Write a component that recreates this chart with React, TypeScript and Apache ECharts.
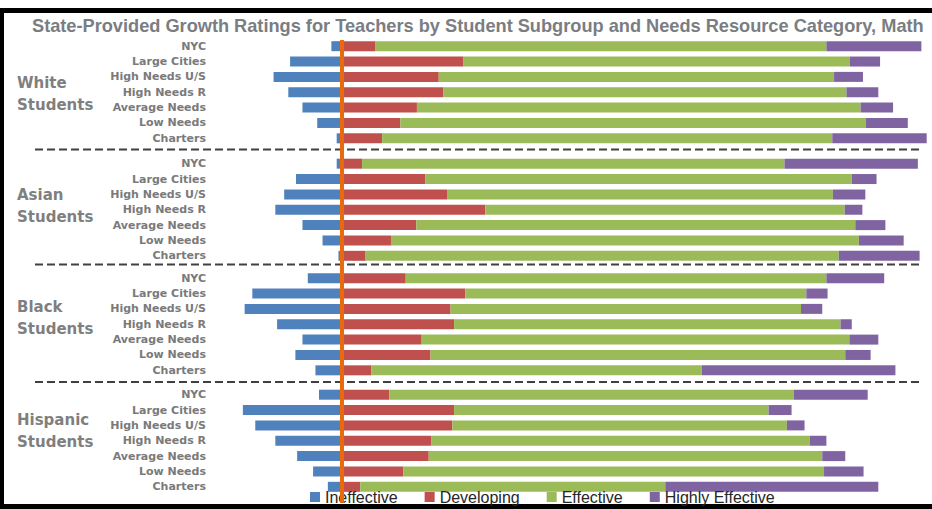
import React, { useEffect, useRef } from 'react';
import * as echarts from 'echarts';

const titleText =
  'State-Provided Growth Ratings for Teachers by Student Subgroup and Needs Resource Category, Math';
const categories = ['NYC', 'Large Cities', 'High Needs U/S', 'High Needs R', 'Average Needs', 'Low Needs', 'Charters'];
const groupLabels = ['White\nStudents', 'Asian\nStudents', 'Black\nStudents', 'Hispanic\nStudents'];
const ratingNames = ['Ineffective', 'Developing', 'Effective', 'Highly Effective'];

// percentages of teachers per rating (Ineffective drawn to the left of zero)
const whiteIneffective = [1.8, 8.8, 11.6, 9.1, 6.7, 4.2, 0.9];
const whiteDeveloping = [5.6, 20.6, 16.4, 17.2, 12.7, 9.9, 6.8];
const whiteEffective = [76.5, 65.5, 67.0, 68.3, 75.2, 78.9, 76.3];
const whiteHighlyEffective = [16.1, 5.1, 4.9, 5.4, 5.5, 7.1, 16.0];

const asianIneffective = [0.9, 7.8, 9.8, 11.3, 6.7, 3.3, 0.6];
const asianDeveloping = [3.4, 14.1, 17.8, 24.3, 12.6, 8.3, 4.0];
const asianEffective = [71.6, 72.3, 65.4, 60.9, 74.4, 79.3, 80.2];
const asianHighlyEffective = [22.6, 4.2, 5.5, 3.0, 5.1, 7.6, 13.7];

const blackIneffective = [5.8, 15.2, 16.5, 11.0, 6.7, 7.9, 4.5];
const blackDeveloping = [10.8, 20.9, 18.4, 19.0, 13.5, 15.0, 5.0];
const blackEffective = [71.3, 57.8, 59.4, 65.5, 72.5, 70.3, 56.0];
const blackHighlyEffective = [9.8, 3.6, 3.6, 1.9, 4.9, 4.3, 32.8];

const hispanicIneffective = [3.9, 16.8, 14.7, 11.3, 7.6, 4.9, 2.4];
const hispanicDeveloping = [8.0, 19.0, 18.7, 15.1, 14.7, 10.4, 3.1];
const hispanicEffective = [68.6, 53.3, 56.7, 64.2, 66.7, 71.3, 51.7];
const hispanicHighlyEffective = [12.5, 3.9, 3.0, 2.8, 3.9, 6.7, 36.1];

const groupValues = [
  [whiteIneffective, whiteDeveloping, whiteEffective, whiteHighlyEffective],
  [asianIneffective, asianDeveloping, asianEffective, asianHighlyEffective],
  [blackIneffective, blackDeveloping, blackEffective, blackHighlyEffective],
  [hispanicIneffective, hispanicDeveloping, hispanicEffective, hispanicHighlyEffective],
];

const ratingColors = ['#4F81BD', '#C0504D', '#9BBB59', '#8064A2'];

// layout
const W = 932;
const H = 509;
const gridLeft = 224;
const gridWidth = 708.6;
const gridTops = [38.5, 156, 270.5, 387];
const gridHeight = 107.5;
const labelCenters = [94, 206, 317.5, 431];
const separatorYs = [149.5, 264.5, 382];

export default function App() {
  const ref = useRef<HTMLDivElement>(null);

  useEffect(() => {
    if (!ref.current) return;
    const chart = echarts.init(ref.current, undefined, { renderer: 'svg' });

    const grids: any[] = gridTops.map((top) => ({ left: gridLeft, width: gridWidth, top, height: gridHeight }));
    grids.push({ left: gridLeft, width: gridWidth, top: 40, height: 463 });

    const xAxes: any[] = grids.map((_, i) => ({ type: 'value', gridIndex: i, min: -20, max: 100, show: false }));

    const yAxes: any[] = gridTops.map((_, i) => ({
      type: 'category',
      gridIndex: i,
      data: categories,
      inverse: true,
      axisLine: { show: false },
      axisTick: { show: false },
      splitLine: { show: false },
      axisLabel: {
        margin: 18,
        fontSize: 11,
        fontWeight: 'bold',
        fontFamily: 'DejaVu Sans',
        color: '#7a7a7a',
      },
    }));
    yAxes.push({ type: 'value', gridIndex: 4, min: 0, max: 1, show: false });

    const series: any[] = [];
    groupValues.forEach((vals, gi) => {
      vals.forEach((arr, ri) => {
        series.push({
          type: 'bar',
          name: ratingNames[ri],
          xAxisIndex: gi,
          yAxisIndex: gi,
          stack: 'group' + gi,
          barWidth: 10,
          data: ri === 0 ? arr.map((v) => -v) : arr,
          itemStyle: { color: ratingColors[ri] },
        });
      });
    });
    series.push({
      type: 'line',
      name: 'zero',
      xAxisIndex: 4,
      yAxisIndex: 4,
      data: [
        [0, 0],
        [0, 1],
      ],
      symbol: 'none',
      lineStyle: { color: '#E8690E', width: 4 },
      z: 10,
      silent: true,
    });

    const graphic: any[] = [
      { type: 'rect', shape: { x: 0, y: 8, width: W, height: 5 }, style: { fill: '#000' } },
      { type: 'rect', shape: { x: 0, y: 8, width: 4, height: H - 8 }, style: { fill: '#000' } },
      { type: 'rect', shape: { x: 0, y: 504, width: W, height: 5 }, style: { fill: '#000' } },
    ];
    separatorYs.forEach((y) => {
      graphic.push({
        type: 'line',
        shape: { x1: 35, y1: y, x2: 920, y2: y },
        style: { stroke: '#404040', lineWidth: 2, lineDash: [8, 4] },
      });
    });
    groupLabels.forEach((t, i) => {
      graphic.push({
        type: 'text',
        x: 17,
        y: labelCenters[i],
        style: {
          text: t,
          fill: '#7f7f7f',
          fontSize: 15,
          fontWeight: 'bold',
          fontFamily: 'DejaVu Sans',
          lineHeight: 22,
          align: 'left',
          verticalAlign: 'middle',
        },
      });
    });

    chart.setOption({
      animation: false,
      backgroundColor: '#ffffff',
      title: {
        text: titleText,
        left: 27,
        top: 12,
        textStyle: {
          fontSize: 18.2,
          fontWeight: 'bold',
          fontFamily: 'Liberation Sans',
          color: '#7a7d82',
        },
      },
      legend: {
        data: ratingNames,
        left: 305,
        top: 484,
        icon: 'rect',
        itemWidth: 10,
        itemHeight: 10,
        itemGap: 27,
        textStyle: { fontSize: 16, fontFamily: 'Liberation Sans', color: '#262626' },
      },
      grid: grids,
      xAxis: xAxes,
      yAxis: yAxes,
      series,
      graphic,
    });

    return () => chart.dispose();
  }, []);

  return (
    <div
      ref={ref}
      style={{ position: 'fixed', left: 0, top: 0, width: W, height: H, background: '#fff' }}
    />
  );
}
